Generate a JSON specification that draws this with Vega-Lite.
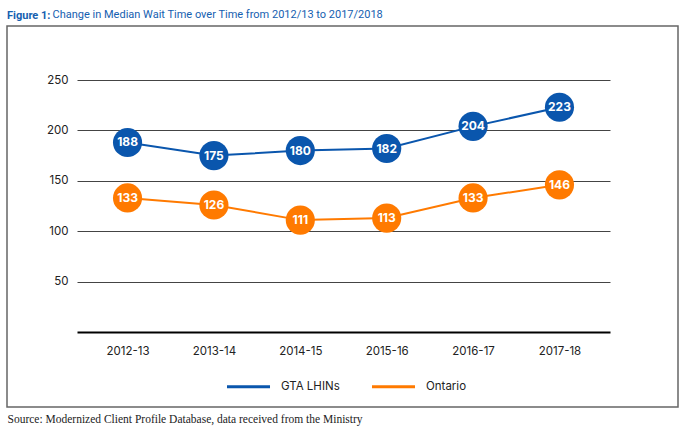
{
  "$schema": "https://vega.github.io/schema/vega-lite/v6.json",
  "width": 671,
  "height": 381,
  "autosize": {"type": "pad"},
  "padding": {"left": 7, "top": 8, "right": 8, "bottom": 2},
  "title": {
    "text": "Figure 1:",
    "anchor": "start",
    "frame": "bounds",
    "font": "Roboto",
    "fontSize": 11,
    "fontWeight": "bold",
    "color": "#1560b0",
    "offset": -13
  },
  "config": {
    "view": {"stroke": "#666666", "strokeWidth": 1.5},
    "font": "Inter",
    "axis": {"labelFont": "Inter", "labelFontSize": 11.5, "labelColor": "#222222"},
    "legend": {"labelFont": "Inter", "labelFontSize": 11.5, "labelColor": "#222222"}
  },
  "data": {
    "values": [
      {"year": "2012-13", "series": "GTA LHINs", "value": 188},
      {"year": "2013-14", "series": "GTA LHINs", "value": 175},
      {"year": "2014-15", "series": "GTA LHINs", "value": 180},
      {"year": "2015-16", "series": "GTA LHINs", "value": 182},
      {"year": "2016-17", "series": "GTA LHINs", "value": 204},
      {"year": "2017-18", "series": "GTA LHINs", "value": 223},
      {"year": "2012-13", "series": "Ontario", "value": 133},
      {"year": "2013-14", "series": "Ontario", "value": 126},
      {"year": "2014-15", "series": "Ontario", "value": 111},
      {"year": "2015-16", "series": "Ontario", "value": 113},
      {"year": "2016-17", "series": "Ontario", "value": 133},
      {"year": "2017-18", "series": "Ontario", "value": 146}
    ]
  },
  "encoding": {
    "x": {
      "field": "year",
      "type": "ordinal",
      "scale": {"type": "point", "range": [70, 603], "padding": 0.585},
      "axis": {
        "orient": "bottom",
        "domain": false,
        "ticks": false,
        "grid": false,
        "labelAngle": 0,
        "labelPadding": -62,
        "title": "Source: Modernized Client Profile Database, data received from the Ministry",
        "titleFont": "Liberation Serif",
        "titleFontSize": 11.5,
        "titleFontWeight": "normal",
        "titleColor": "#222222",
        "titleAnchor": "start",
        "titleAlign": "left",
        "titleBaseline": "middle",
        "titleX": 0,
        "titleY": 12
      }
    },
    "y": {
      "field": "value",
      "type": "quantitative",
      "scale": {"domain": [0, 250], "range": [306, 54], "nice": false, "zero": true},
      "axis": {
        "values": [0, 50, 100, 150, 200, 250],
        "labelExpr": "datum.value === 0 ? '' : datum.label",
        "domain": false,
        "ticks": false,
        "grid": true,
        "gridColor": {"condition": {"test": "datum.value === 0", "value": "#000000"}, "value": "#444444"},
        "gridWidth": {"condition": {"test": "datum.value === 0", "value": 2}, "value": 1},
        "labelPadding": -61,
        "title": "Change in Median Wait Time over Time from 2012/13 to 2017/2018",
        "titleAngle": 0,
        "titleAlign": "left",
        "titleBaseline": "alphabetic",
        "titleX": 45,
        "titleY": -9,
        "titleFont": "Roboto",
        "titleFontSize": 11,
        "titleFontWeight": "normal",
        "titleColor": "#1560b0"
      }
    }
  },
  "layer": [
    {
      "mark": {"type": "line", "strokeWidth": 2},
      "encoding": {
        "color": {
          "field": "series",
          "type": "nominal",
          "scale": {"domain": ["GTA LHINs", "Ontario"], "range": ["#0a56ad", "#ff7a00"]},
          "legend": {
            "title": null,
            "orient": "none",
            "direction": "horizontal",
            "legendX": 218,
            "legendY": 337,
            "symbolType": "stroke",
            "symbolSize": 1850,
            "symbolStrokeWidth": 3,
            "labelOffset": 9,
            "columnPadding": 25
          }
        }
      }
    },
    {
      "mark": {"type": "circle", "size": 850, "opacity": 1},
      "encoding": {
        "color": {"field": "series", "type": "nominal", "legend": null}
      }
    },
    {
      "mark": {"type": "text", "color": "white", "fontSize": 12, "fontWeight": "bold", "font": "Inter"},
      "encoding": {
        "text": {"field": "value", "type": "quantitative", "format": "d"}
      }
    }
  ]
}
